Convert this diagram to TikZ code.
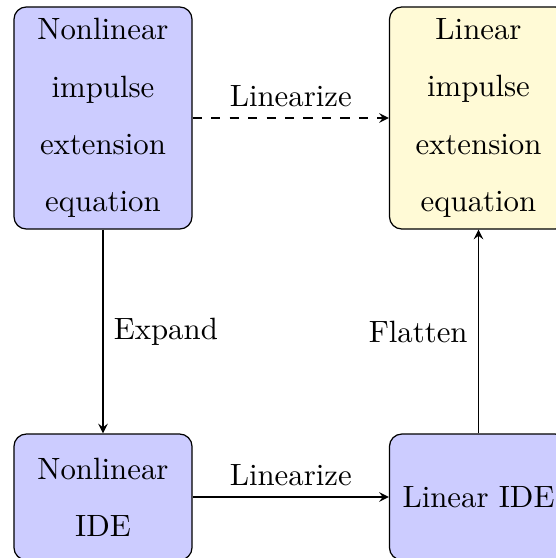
\documentclass[tikz,border=0pt]{standalone}
\usetikzlibrary{arrows}
\definecolor{cream}{RGB}{255,250,214}
\begin{document}
\begin{tikzpicture}[x=0.3247pt, y=-0.3247pt,
  every node/.style={font=\fontsize{10}{18.6}\selectfont},
  stage/.style={draw, rounded corners, align=center, minimum width=57.8pt},
  tall/.style={stage, minimum height=72.1pt},
  short/.style={stage, minimum height=40.9pt},
  flow/.style={-stealth}]
  \useasboundingbox (0,0) rectangle (556,558);
  % the four equation stages
  \node[tall, fill=blue!20] (nie) at (103,118) {Nonlinear\\impulse\\extension\\equation};
  \node[tall, fill=cream] (lie) at (478.5,118) {Linear\\impulse\\extension\\equation};
  \node[short, fill=blue!20] (nide) at (103,497) {Nonlinear\\IDE};
  \node[short, fill=blue!20] (lide) at (478.5,497) {Linear IDE};
  % transformations between them
  \draw[flow, dashed] (nie) -- node[above] (l1) {Linearize} (lie);
  \draw[flow] (nie) -- node[right] (l2) {Expand} (nide);
  \draw[flow] (nide) -- node[above] (l3) {Linearize} (lide);
  \draw[flow] (lide) -- node[left] (l4) {Flatten} (lie);
\end{tikzpicture}
\end{document}
